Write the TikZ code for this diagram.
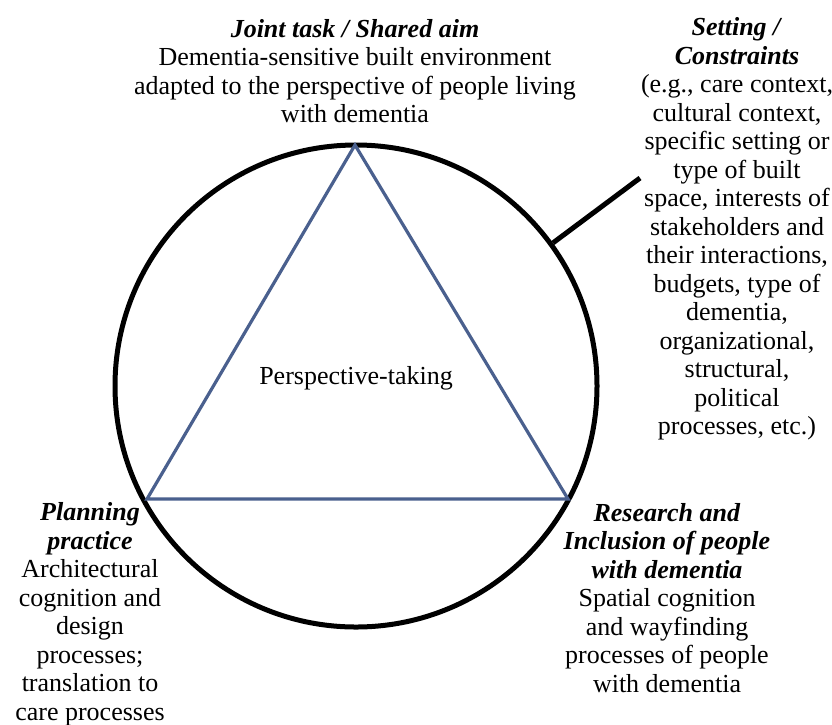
\documentclass[tikz,border=0pt]{standalone}
\usepackage{fontspec}
\setmainfont{Liberation Serif}
\usetikzlibrary{positioning}
\definecolor{slate}{RGB}{74,96,142}
\newcommand{\headtxt}[1]{\textbf{\textit{#1}}}
\newcommand{\textsize}{\fontsize{26}{28.5}\selectfont\lineskiplimit=-100pt\relax}
\tikzset{
blurb/.style={align=center, inner sep=0pt, font=\textsize}, % the text blocks round the circle
ring/.style={circle, draw, line width=5pt, minimum size=482pt, inner sep=0pt}, % the outer circle
side/.style={draw=slate, line width=3.2pt}, % the triangle
}

\begin{document}
\begin{tikzpicture}[x=1pt, y=-1pt]
        \useasboundingbox (0,0) rectangle (832,724);
        \coordinate (top) at (355,145);
        \coordinate (bl) at (147,499);
        \coordinate (br) at (568,499);
        \coordinate (tag) at (640,178);

        \node[ring] (ring) at (356,386) {};
        \draw[side] (top) -- (bl) -- (br) -- cycle;
        \draw[line width=5pt] (ring.36) -- (tag);

        \node[blurb] (pt) at (356,378) {Perspective-taking};
        \node[blurb, above=22pt of top] (aim) {\headtxt{Joint task / Shared aim}\\
        Dementia-sensitive built environment\\adapted to the perspective of people living\\with dementia};
        \node[blurb] (setting) at (737,229) {\headtxt{Setting /}\\\headtxt{Constraints}\\
        (e.g., care context,\\cultural context,\\specific setting or\\type of built\\space, interests of\\
        stakeholders and\\their interactions,\\budgets, type of\\dementia,\\organizational,\\structural,\\political\\processes, etc.)};
        \node[blurb] (plan) at (90,614) {\headtxt{Planning}\\\headtxt{practice}\\
        Architectural\\cognition and\\design\\processes;\\translation to\\care processes};
        \node[blurb] (research) at (667,598) {\headtxt{Research and}\\\headtxt{Inclusion of people}\\\headtxt{with dementia}\\
        Spatial cognition\\and wayfinding\\processes of people\\with dementia};
      \end{tikzpicture}
\end{document}
